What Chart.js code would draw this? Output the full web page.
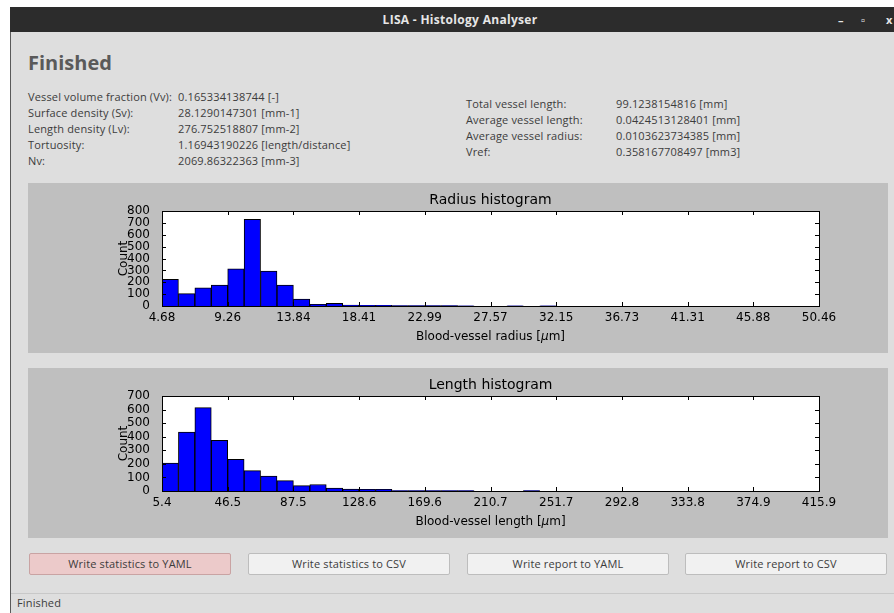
<!DOCTYPE html>
<html>
<head>
<meta charset="utf-8">
<title>LISA - Histology Analyser</title>
<script src="https://cdn.jsdelivr.net/npm/chart.js@4"></script>
<style>
  html, body { margin: 0; padding: 0; }
  body { width: 894px; height: 613px; background: #ffffff; position: relative; overflow: hidden;
         font-family: "Open Sans", "Noto Sans", sans-serif; }
  #titlebar { position: absolute; left: 10px; top: 7px; width: 884px; height: 25px; background: #2c2c2c; }
  #titletext { position: absolute; left: 0; top: 7px; width: 920px; height: 25px; line-height: 25px;
               text-align: center; color: #e6e6e6; font-weight: bold; font-size: 12px; letter-spacing: 0.3px; }
  .wbtn { position: absolute; top: 7px; height: 25px; line-height: 25px; color: #e6e6e6; font-size: 11px; font-weight: bold; }
  #win { position: absolute; left: 10px; top: 32px; width: 884px; height: 581px; background: #dedede;
         border-left: 1px solid #5a5a5a; box-sizing: border-box; }
  .abs { position: absolute; white-space: nowrap; }
  #heading { left: 28px; top: 49px; font-size: 20px; font-weight: bold; color: #5a5a5a; }
  .stat { font-size: 11px; color: #3c3c3c; line-height: 16px; letter-spacing: 0.15px; }
  .panel { position: absolute; left: 28px; width: 860px; height: 170px; }
  .btn { position: absolute; top: 553px; width: 202px; height: 22px; box-sizing: border-box;
         border: 1px solid #bdbdbd; border-radius: 2px; background: #f1f1f1; color: #3c3c3c;
         font-size: 11px; line-height: 20px; text-align: center; letter-spacing: 0.15px; }
  .btn.active { background: #eccaca; border-color: #c9a3a3; }
  #sep { position: absolute; left: 11px; top: 593px; width: 883px; height: 1px; background: #c8c8c8; }
  #status { left: 17px; top: 595px; font-size: 11px; color: #3c3c3c; line-height: 16px; letter-spacing: 0.15px; }
</style>
</head>
<body>
<div id="titlebar"></div>
<div id="titletext">LISA - Histology Analyser</div>
<div class="wbtn" style="left:838px">&#8211;</div>
<div class="wbtn" style="left:861px">&#9643;</div>
<div class="wbtn" style="left:886px">x</div>
<div id="win"></div>

<div id="heading" class="abs">Finished</div>

<div class="abs stat" style="left:28px; top:89px;">
  Vessel volume fraction (Vv):<br>Surface density (Sv):<br>Length density (Lv):<br>Tortuosity:<br>Nv:
</div>
<div class="abs stat" style="left:178px; top:89px;">
  0.165334138744 [-]<br>28.1290147301 [mm-1]<br>276.752518807 [mm-2]<br>1.16943190226 [length/distance]<br>2069.86322363 [mm-3]
</div>
<div class="abs stat" style="left:466px; top:96px;">
  Total vessel length:<br>Average vessel length:<br>Average vessel radius:<br>Vref:
</div>
<div class="abs stat" style="left:616px; top:96px;">
  99.1238154816 [mm]<br>0.0424513128401 [mm]<br>0.0103623734385 [mm]<br>0.358167708497 [mm3]
</div>

<canvas id="radiusChart" class="panel" style="top:183px;" width="860" height="170"></canvas>
<canvas id="lengthChart" class="panel" style="top:368px;" width="860" height="170"></canvas>

<div class="btn active" style="left:29px;">Write statistics to YAML</div>
<div class="btn" style="left:248px;">Write statistics to CSV</div>
<div class="btn" style="left:467px;">Write report to YAML</div>
<div class="btn" style="left:685px;">Write report to CSV</div>

<div id="sep"></div>
<div id="status" class="abs">Finished</div>

<script>
// Histogram counts per bin (40 equal bins spanning each range)
const radiusRange = [4.68, 50.46];
const radiusCounts = [
  225, 104, 154, 177, 312, 730, 295, 177, 59, 14,
  22, 7, 6, 5, 4, 4, 3, 3, 2, 0,
  0, 2, 0, 2, 0, 0, 0, 0, 0, 0,
  0, 0, 0, 0, 0, 0, 0, 0, 0, 0
];
const radiusTickLabels = ['4.68', '9.26', '13.84', '18.41', '22.99', '27.57', '32.15', '36.73', '41.31', '45.88', '50.46'];
const radiusYMax = 800;

const lengthRange = [5.4, 415.9];
const lengthCounts = [
  206, 435, 614, 373, 233, 150, 110, 76, 40, 48,
  22, 14, 12, 12, 4, 4, 4, 3, 3, 0,
  0, 0, 3, 0, 0, 0, 0, 0, 0, 0,
  0, 0, 0, 0, 0, 0, 0, 0, 0, 0
];
const lengthTickLabels = ['5.4', '46.5', '87.5', '128.6', '169.6', '210.7', '251.7', '292.8', '333.8', '374.9', '415.9'];
const lengthYMax = 700;

const FONT = '"DejaVu Sans", "Bitstream Vera Sans", sans-serif';

// Panel background, white axes area, inward ticks on all sides, frame and labels
const axesDecor = {
  id: 'axesDecor',
  beforeDraw(chart) {
    const { ctx, chartArea: a } = chart;
    ctx.save();
    ctx.fillStyle = '#bfbfbf';
    ctx.fillRect(0, 0, chart.width, chart.height);
    ctx.fillStyle = '#ffffff';
    ctx.fillRect(a.left, a.top, a.right - a.left, a.bottom - a.top);
    ctx.restore();
  },
  afterDatasetsDraw(chart, args, opts) {
    const { ctx, chartArea: a, scales } = chart;
    const L = 4;
    ctx.save();
    ctx.strokeStyle = '#000';
    ctx.lineWidth = 1;
    ctx.beginPath();
    scales.y.ticks.forEach(t => {
      const y = Math.round(scales.y.getPixelForValue(t.value)) + 0.5;
      ctx.moveTo(a.left, y); ctx.lineTo(a.left + L, y);
      ctx.moveTo(a.right, y); ctx.lineTo(a.right - L, y);
    });
    scales.x.ticks.forEach(t => {
      const x = Math.round(scales.x.getPixelForValue(t.value)) + 0.5;
      ctx.moveTo(x, a.bottom); ctx.lineTo(x, a.bottom - L);
      ctx.moveTo(x, a.top); ctx.lineTo(x, a.top + L);
    });
    ctx.stroke();
    ctx.strokeRect(Math.round(a.left) + 0.5, Math.round(a.top) + 0.5,
                   Math.round(a.right - a.left), Math.round(a.bottom - a.top));

    ctx.fillStyle = '#000';
    ctx.textAlign = 'center';
    ctx.textBaseline = 'alphabetic';
    const cx = (a.left + a.right) / 2;
    ctx.font = '14px ' + FONT;
    ctx.fillText(opts.title, cx, a.top - 7);

    // x label with italic mu
    ctx.font = '12px ' + FONT;
    const pre = opts.xlabel + ' [';
    const mu = '\u03bc';
    const post = 'm]';
    const wPre = ctx.measureText(pre).width;
    const wPost = ctx.measureText(post).width;
    ctx.font = 'italic 12px ' + FONT;
    const wMu = ctx.measureText(mu).width;
    let x0 = cx - (wPre + wMu + wPost) / 2;
    ctx.textAlign = 'left';
    ctx.font = '12px ' + FONT;
    const yb = a.bottom + 34;
    ctx.fillText(pre, x0, yb);
    ctx.font = 'italic 12px ' + FONT;
    ctx.fillText(mu, x0 + wPre, yb);
    ctx.font = '12px ' + FONT;
    ctx.fillText(post, x0 + wPre + wMu, yb);

    // y label
    ctx.translate(a.left - 38, (a.top + a.bottom) / 2);
    ctx.rotate(-Math.PI / 2);
    ctx.textAlign = 'center';
    ctx.textBaseline = 'middle';
    ctx.font = '12px ' + FONT;
    ctx.fillText('Count', 0, 0);
    ctx.restore();
  }
};

function makeHistogram(canvasId, range, counts, tickLabels, yMax, title, xlabel) {
  const width = (range[1] - range[0]) / counts.length;
  const points = counts.map((c, i) => ({ x: range[0] + (i + 0.5) * width, y: c }));
  const tickValues = tickLabels.map(Number);
  return new Chart(document.getElementById(canvasId), {
    type: 'bar',
    data: {
      datasets: [{
        data: points,
        backgroundColor: '#0000ff',
        borderColor: '#000000',
        borderWidth: 1,
        borderSkipped: 'start',
        barPercentage: 1.0,
        categoryPercentage: 1.0
      }]
    },
    options: {
      responsive: false,
      animation: false,
      devicePixelRatio: 1,
      layout: { padding: { left: 0, right: 69, top: 28, bottom: 0 } },
      plugins: {
        legend: { display: false },
        tooltip: { enabled: false },
        axesDecor: { title: title, xlabel: xlabel }
      },
      scales: {
        x: {
          type: 'linear',
          offset: false,
          min: range[0],
          max: range[1],
          grid: { display: false },
          border: { display: false },
          afterBuildTicks(scale) { scale.ticks = tickValues.map(v => ({ value: v })); },
          afterFit(scale) { scale.height = 47; },
          ticks: {
            autoSkip: false,
            maxRotation: 0,
            padding: -3,
            color: '#000',
            font: { family: FONT, size: 12 },
            callback: (v, i) => tickLabels[i]
          }
        },
        y: {
          min: 0,
          max: yMax,
          grid: { display: false },
          border: { display: false },
          afterFit(scale) { scale.width = 134; },
          ticks: {
            stepSize: 100,
            autoSkip: false,
            padding: 4,
            color: '#000',
            font: { family: FONT, size: 12 }
          }
        }
      }
    },
    plugins: [axesDecor]
  });
}

makeHistogram('radiusChart', radiusRange, radiusCounts, radiusTickLabels, radiusYMax,
              'Radius histogram', 'Blood-vessel radius');
makeHistogram('lengthChart', lengthRange, lengthCounts, lengthTickLabels, lengthYMax,
              'Length histogram', 'Blood-vessel length');
</script>
</body>
</html>
